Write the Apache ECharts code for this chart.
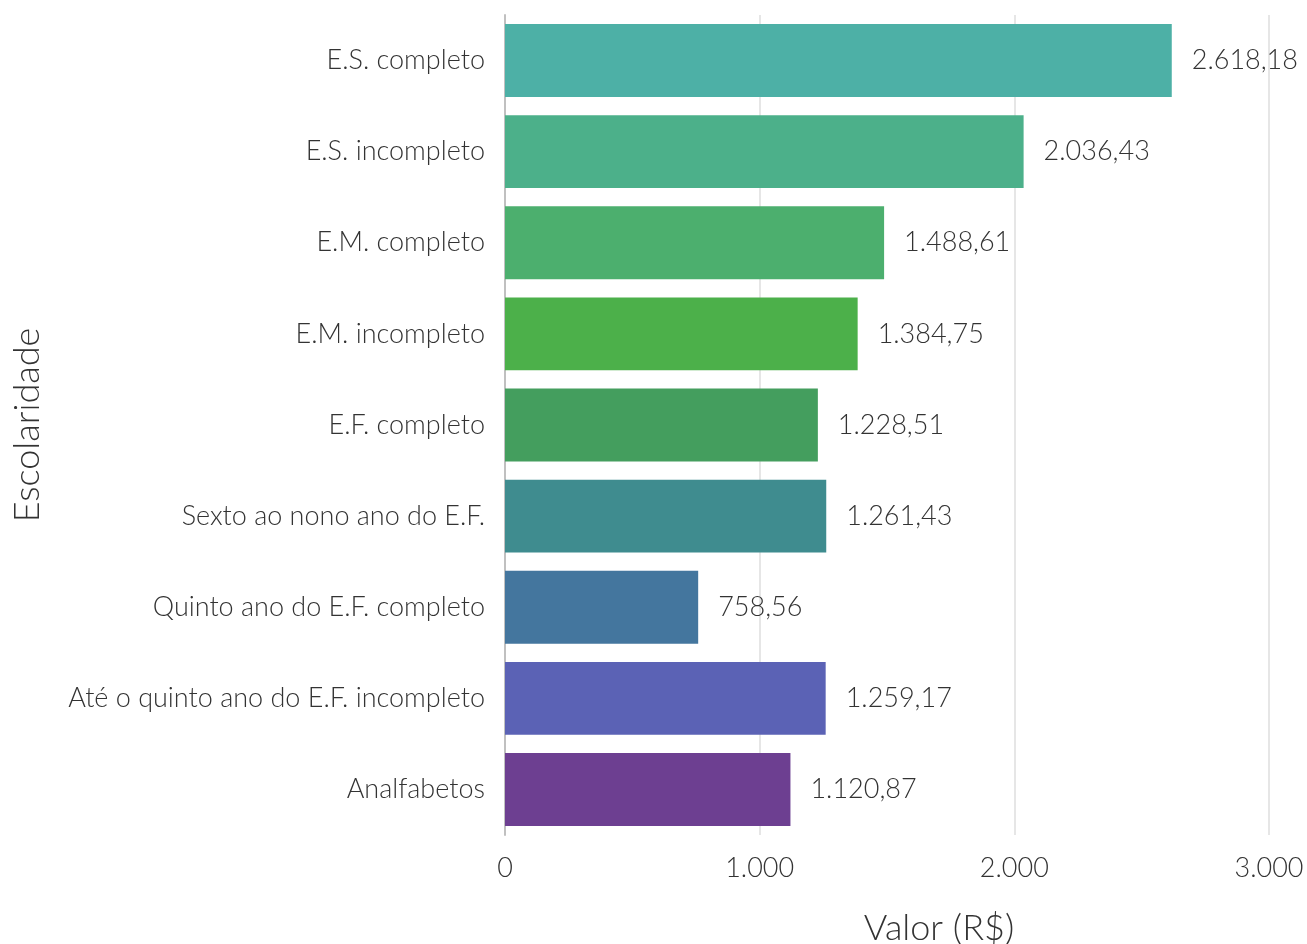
<!DOCTYPE html>
<html>
<head>
<meta charset="utf-8">
<script src="https://cdn.jsdelivr.net/npm/echarts@6/dist/echarts.min.js"></script>
<style>html,body{margin:0;padding:0;background:#fff}#c{width:1307px;height:944px}</style>
</head>
<body>
<div id="c"></div>
<script>
const categories = ["E.S. completo","E.S. incompleto","E.M. completo","E.M. incompleto","E.F. completo","Sexto ao nono ano do E.F.","Quinto ano do E.F. completo","Até o quinto ano do E.F. incompleto","Analfabetos"];
const values = [2618.18,2036.43,1488.61,1384.75,1228.51,1261.43,758.56,1259.17,1120.87];
const colors = ["#4DB0A6","#4CB08A","#4CAF6E","#4CB04A","#449E5E","#3F8C8F","#44769E","#5B62B5","#6D3F91"];
const xTicks = [0,1000,2000,3000];

function fmt(v, dec){
  const s = v.toFixed(dec);
  let [i, d] = s.split('.');
  i = i.replace(/\B(?=(\d{3})+(?!\d))/g, '.');
  return d ? i + ',' + d : i;
}
const FONT = 'Lato';
const chart = echarts.init(document.getElementById('c'));
chart.setOption({
  animation:false,
  grid:{left:505,right:38,top:15,bottom:109,containLabel:false,outerBoundsMode:'none'},
  xAxis:{
    type:'value', min:xTicks[0], max:xTicks[xTicks.length-1], interval:1000,
    axisLine:{show:false}, axisTick:{show:false},
    splitLine:{show:true,lineStyle:{color:'#dedede',width:1.5}},
    axisLabel:{formatter:v=>fmt(v,0),color:'#333',fontFamily:FONT,fontWeight:300,fontSize:27,margin:20},
    name:'Valor (R$)', nameLocation:'middle', nameGap:75,
    nameTextStyle:{color:'#333',fontFamily:FONT,fontWeight:300,fontSize:36,padding:[0,0,0,104]}
  },
  yAxis:{
    type:'category', data:categories, inverse:true,
    axisLine:{show:true,lineStyle:{color:'#c0c0c0',width:2}}, axisTick:{show:false},
    axisLabel:{color:'#333',fontFamily:FONT,fontWeight:300,fontSize:27,margin:20},
    name:'Escolaridade', nameLocation:'middle', nameGap:460, nameRotate:90,
    nameTextStyle:{color:'#333',fontFamily:FONT,fontWeight:300,fontSize:36}
  },
  series:[{
    type:'bar', data:values.map((v,i)=>({value:v,itemStyle:{color:colors[i]}})),
    barCategoryGap:'20%',
    label:{show:true,position:'right',distance:20,formatter:p=>fmt(p.value,2),color:'#333',fontFamily:FONT,fontWeight:300,fontSize:27}
  }]
});
</script>
</body>
</html>
